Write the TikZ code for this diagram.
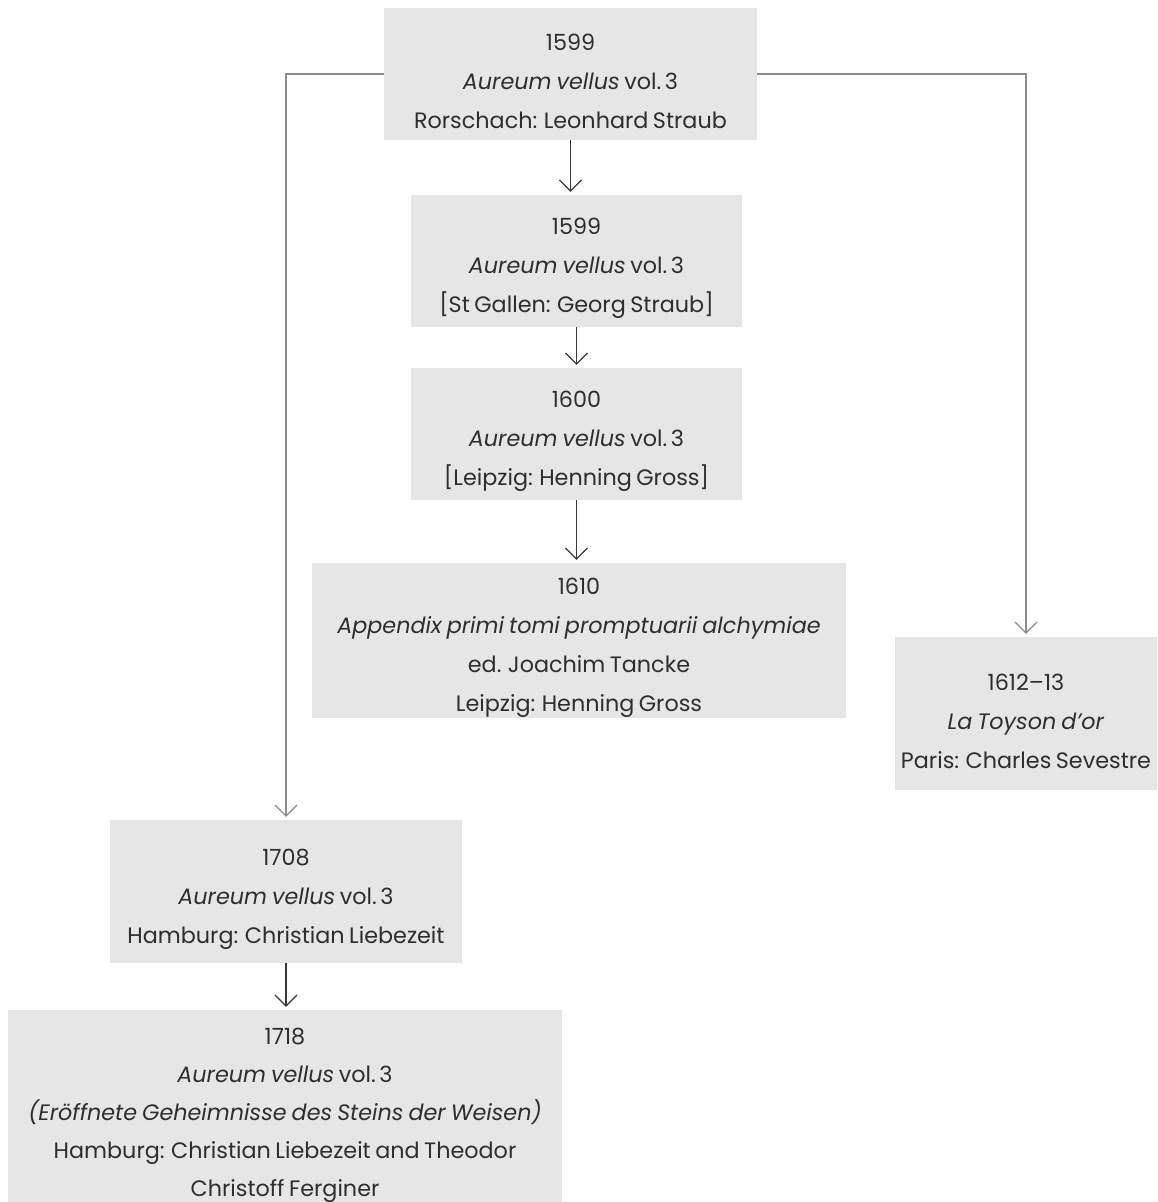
\documentclass[tikz,border=0pt]{standalone}
\usepackage{fontspec}
\setmainfont{Poppins}[WordSpace=0.75]
\usetikzlibrary{arrows.meta}
\definecolor{boxgrey}{RGB}{230,230,231}
\definecolor{linegrey}{RGB}{140,140,140}
\definecolor{linedark}{RGB}{55,55,55}
\newcommand{\yr}[1]{\rule{0pt}{32pt}#1}

\begin{document}
\begin{tikzpicture}[x=1pt, y=-1pt]
\tikzset{EdStyle/.style = {shape=rectangle, fill=boxgrey, inner sep=0pt, align=center,
	font=\fontsize{22.3}{39}\selectfont, text=black!82}}
\tikzset{ArrStyle/.style = {-{Straight Barb[length=11pt, width=22pt]}, line width=1.2pt, draw=linedark, shorten >=3pt}}
\tikzset{LongStyle/.style = {ArrStyle, draw=linegrey}}
	\useasboundingbox (0,0) rectangle (1157,1202);
	\node[EdStyle, minimum width=373pt, minimum height=132pt] (y1599a) at (570.5,74)
		{\yr{1599}\\ \textit{Aureum vellus} vol.\,3\\ Rorschach: Leonhard Straub};
	\node[EdStyle, minimum width=331pt, minimum height=132pt] (y1599b) at (576.5,261)
		{\yr{1599}\\ \textit{Aureum vellus} vol.\,3\\ {[}St Gallen: Georg Straub]};
	\node[EdStyle, minimum width=331pt, minimum height=132pt] (y1600) at (576.5,434)
		{\yr{1600}\\ \textit{Aureum vellus} vol.\,3\\ {[}Leipzig: Henning Gross]};
	\node[EdStyle, minimum width=534pt, minimum height=150pt] (y1610) at (579,640.5)
		{\yr{1610}\\ \textit{Appendix primi tomi promptuarii alchymiae}\\ ed. Joachim Tancke\\ Leipzig: Henning Gross};
	\node[EdStyle, minimum width=262pt, minimum height=153pt] (y1612) at (1026,713.5)
		{\yr{1612--13}\\ \textit{La Toyson d'or}\\ Paris: Charles Sevestre};
	\node[EdStyle, minimum width=352pt, minimum height=143pt] (y1708) at (286,891.5)
		{\yr{1708}\\ \textit{Aureum vellus} vol.\,3\\ Hamburg: Christian Liebezeit};
	\node[EdStyle, minimum width=554pt, minimum height=194pt, font=\fontsize{22.3}{38}\selectfont] (y1718) at (285,1107)
		{\yr{1718}\\ \textit{Aureum vellus} vol.\,3\\ \textit{(Eröffnete Geheimnisse des Steins der Weisen)}\\
		Hamburg: Christian Liebezeit and Theodor\\ Christoff Ferginer};
	\draw[ArrStyle] (y1599a) -- (y1599a |- y1599b.north);
	\draw[ArrStyle] (y1599b) -- (y1600);
	\draw[ArrStyle] (y1600) -- (y1600 |- y1610.north);
	\draw[ArrStyle] (y1708) -- (y1708 |- y1718.north);
	\draw[LongStyle] (y1599a.west) -| (y1708.north);
	\draw[LongStyle] (y1599a.east) -| (y1612.north);
\end{tikzpicture}
\end{document}
